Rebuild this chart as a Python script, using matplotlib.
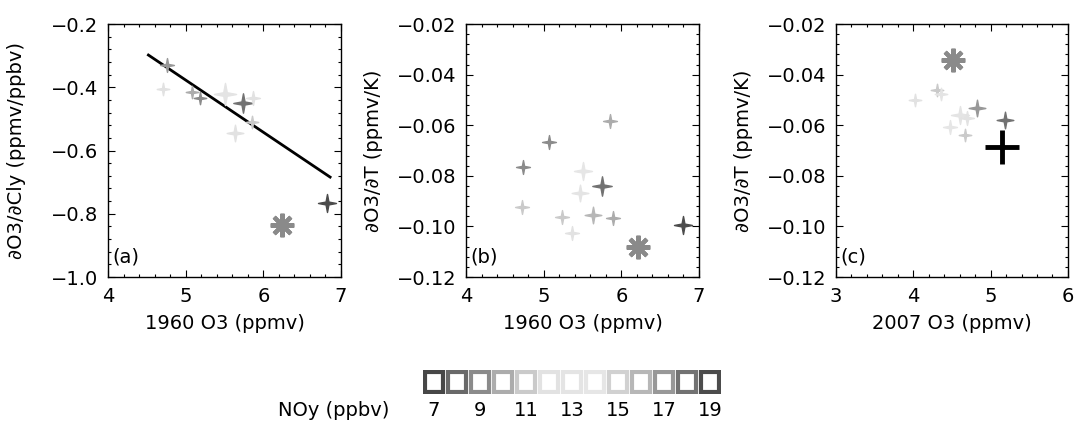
import numpy as np
import matplotlib
matplotlib.use("Agg")
import matplotlib.pyplot as plt
from matplotlib.path import Path
from matplotlib.colors import LinearSegmentedColormap, Normalize
from matplotlib.ticker import AutoMinorLocator, MultipleLocator

# ---- data ----
# panel (a): 1960 O3 vs dO3/dCly
a_x = [4.76, 4.71, 5.08, 5.18, 5.51, 5.74, 5.87, 5.85, 5.63, 6.82]
a_y = [-0.33, -0.405, -0.415, -0.435, -0.42, -0.45, -0.435, -0.51, -0.545, -0.767]
a_noy = [17, 12, 10, 9, 13, 18, 12, 11, 12, 19]
a_ms = [10, 9, 9, 9, 16, 14, 10, 9, 12, 13]
a_star = (6.24, -0.836)
a_fit_x = [4.52, 6.86]
a_fit_y = [-0.298, -0.684]

# panel (b): 1960 O3 vs dO3/dT
b_x = [5.85, 5.07, 4.73, 5.51, 5.75, 5.47, 4.72, 5.24, 5.64, 5.89, 5.36, 6.79]
b_y = [-0.0583, -0.0667, -0.0765, -0.078, -0.084, -0.0868, -0.0924, -0.0963,
       -0.0955, -0.0967, -0.1026, -0.0995]
b_noy = [10, 9, 9, 14, 18, 13, 11, 11, 16, 10, 12, 19]
b_ms = [10, 10, 10, 13, 14, 12, 10, 10, 12, 10, 10, 13]
b_star = (6.21, -0.108)

# panel (c): 2007 O3 vs dO3/dT
c_x = [4.02, 4.31, 4.36, 4.60, 4.82, 4.69, 4.47, 4.67, 5.19]
c_y = [-0.050, -0.046, -0.0475, -0.056, -0.053, -0.057, -0.0607, -0.064, -0.058]
c_noy = [12, 11, 13, 13, 17, 12, 14, 11, 18]
c_ms = [9, 9, 9, 13, 12, 10, 10, 9, 12]
c_star = (4.51, -0.0342)
c_plus = (5.15, -0.0686)

noy_levels = list(range(7, 20))
noy_ticks = [7, 9, 11, 13, 15, 17, 19]

# gray scale (dark at both ends, light in the middle)
cmap = LinearSegmentedColormap.from_list(
    "noy", ["#474747", "#9a9a9a", "#e2e2e2", "#e6e6e6", "#a8a8a8", "#4c4c4c"])
norm = Normalize(7, 19)

# 4-pointed sparkle marker
w = 0.16
star4 = Path([(0, 1), (w, w), (1, 0), (w, -w), (0, -1), (-w, -w), (-1, 0), (-w, w), (0, 1)],
             [Path.MOVETO] + [Path.LINETO] * 7 + [Path.CLOSEPOLY])

plt.rcParams["font.family"] = "DejaVu Sans"
plt.rcParams["font.size"] = 14

fig = plt.figure(figsize=(10.77, 4.28), dpi=100)
ax_a = fig.add_axes([0.1003, 0.3528, 0.2163, 0.591])
ax_b = fig.add_axes([0.4327, 0.3528, 0.2163, 0.591])
ax_c = fig.add_axes([0.7762, 0.3528, 0.2154, 0.591])


def draw_points(ax, xs, ys, noy, ms):
    for x, y, n, m in zip(xs, ys, noy, ms):
        col = cmap(norm(n))
        ax.plot(x, y, marker=star4, ms=m, color=col, mec=col, ls="none")
        ax.plot(x, y, marker="+", ms=m * 0.9, color=col, mew=0.8, ls="none")


def style(ax, xlim, ylim, xmaj, ymaj, xlabel, ylabel, tag, yfmt, ypad):
    ax.set_xlim(*xlim)
    ax.set_ylim(*ylim)
    ax.xaxis.set_major_locator(MultipleLocator(xmaj))
    ax.yaxis.set_major_locator(MultipleLocator(ymaj))
    ax.xaxis.set_minor_locator(AutoMinorLocator(5))
    ax.yaxis.set_minor_locator(AutoMinorLocator(5))
    ax.yaxis.set_major_formatter(plt.FuncFormatter(lambda v, p: (yfmt % v).replace("-", "\u2212")))
    ax.xaxis.set_major_formatter(plt.FuncFormatter(lambda v, p: "%d" % round(v)))
    ax.tick_params(which="both", direction="in", top=True, right=True, width=0.8)
    ax.tick_params(which="major", length=5, pad=7)
    ax.tick_params(which="minor", length=2.5)
    for s in ax.spines.values():
        s.set_linewidth(1.0)
    ax.set_xlabel(xlabel, labelpad=6)
    ax.set_ylabel(ylabel, labelpad=ypad)
    ax.text(0.02, 0.04, tag, transform=ax.transAxes, ha="left", va="bottom")


def big_star(ax, pt):
    ax.plot(*pt, marker=(8, 2, 0), ms=17, mew=3, color="#8a8a8a", ls="none")


# (a)
ax_a.plot(a_fit_x, a_fit_y, color="black", lw=2)
draw_points(ax_a, a_x, a_y, a_noy, a_ms)
big_star(ax_a, a_star)
style(ax_a, (4, 7), (-1.0, -0.2), 1, 0.2, "1960 O3 (ppmv)",
      "\u2202O3/\u2202Cly (ppmv/ppbv)", "(a)", "%.1f", 18)

# (b)
draw_points(ax_b, b_x, b_y, b_noy, b_ms)
big_star(ax_b, b_star)
style(ax_b, (4, 7), (-0.12, -0.02), 1, 0.02, "1960 O3 (ppmv)",
      "\u2202O3/\u2202T (ppmv/K)", "(b)", "%.2f", 10)

# (c)
draw_points(ax_c, c_x, c_y, c_noy, c_ms)
big_star(ax_c, c_star)
ax_c.plot(*c_plus, marker="+", ms=25, mew=3.5, color="black", ls="none")
style(ax_c, (3, 6), (-0.12, -0.02), 1, 0.02, "2007 O3 (ppmv)",
      "\u2202O3/\u2202T (ppmv/K)", "(c)", "%.2f", 10)

# NOy key: hollow squares
ax_k = fig.add_axes([0.3923, 0.0794, 0.2776, 0.056])
for v in noy_levels:
    ax_k.bar(v, 1, width=0.8, bottom=0, facecolor="white",
             edgecolor=cmap(norm(v)), linewidth=3)
ax_k.set_xlim(6.5, 19.5)
ax_k.set_ylim(-0.1, 1.1)
ax_k.set_xticks(noy_ticks)
ax_k.set_yticks([])
ax_k.tick_params(axis="x", length=0, pad=5)
for s in ax_k.spines.values():
    s.set_visible(False)
fig.text(0.362, 0.042, "NOy (ppbv)", ha="right", va="center", fontsize=14)

fig.savefig("out.png", dpi=100)
